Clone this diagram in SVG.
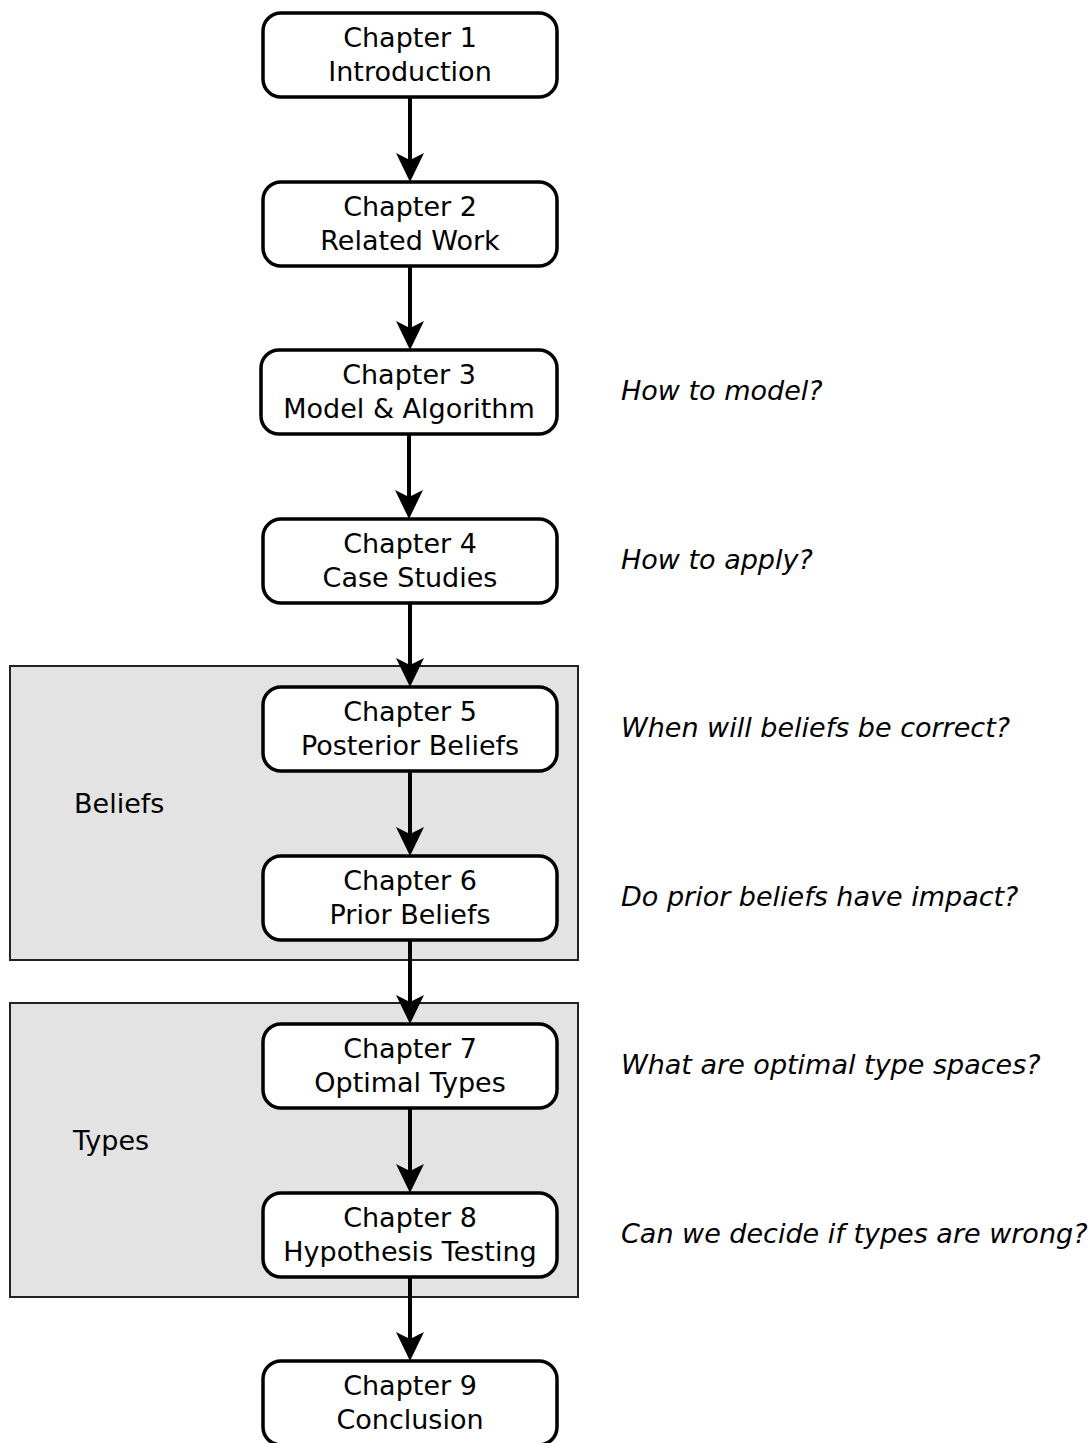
<svg xmlns="http://www.w3.org/2000/svg" width="1092" height="1443" viewBox="0 0 1092 1443">
<style>
.node rect{fill:#fff;stroke:#000;stroke-width:3.5}
.t{font-family:"DejaVu Sans",sans-serif;font-size:27px;fill:#000;text-anchor:middle}
.q{font-family:"DejaVu Sans",sans-serif;font-size:27px;font-style:italic;fill:#000}
.gl{font-family:"DejaVu Sans",sans-serif;font-size:27px;fill:#000}
.grp rect{fill:#e3e3e3;stroke:#222;stroke-width:2}
.c path{stroke:#000;stroke-width:4;fill:none}
</style>
<defs>
<marker id="ah" markerUnits="userSpaceOnUse" markerWidth="30" markerHeight="30" viewBox="0 -15 30 30" refX="7" refY="0" orient="auto" overflow="visible">
<path d="M29,0 L0,-14 L7,0 L0,14 Z" fill="#000"/>
</marker>
</defs>
<g id="group-beliefs" class="grp"><rect x="10" y="666" width="568" height="294"/><text class="gl" x="74" y="813">Beliefs</text></g>
<g id="group-types" class="grp"><rect x="10" y="1003" width="568" height="294"/><text class="gl" x="73" y="1150">Types</text></g>
<g id="connectors" class="c">
<path d="M410,97 V160" marker-end="url(#ah)"/>
<path d="M410,266 V328" marker-end="url(#ah)"/>
<path d="M409,434 V497" marker-end="url(#ah)"/>
<path d="M410,603 V665" marker-end="url(#ah)"/>
<path d="M410,771 V834" marker-end="url(#ah)"/>
<path d="M410,940 V1002" marker-end="url(#ah)"/>
<path d="M410,1108 V1171" marker-end="url(#ah)"/>
<path d="M410,1277 V1339" marker-end="url(#ah)"/>
</g>
<g id="ch1" class="node"><rect x="263" y="13" width="294" height="84" rx="18"/><text class="t" x="410" y="47">Chapter 1</text><text class="t" x="410" y="81">Introduction</text></g>
<g id="ch2" class="node"><rect x="263" y="182" width="294" height="84" rx="18"/><text class="t" x="410" y="216">Chapter 2</text><text class="t" x="410" y="250">Related Work</text></g>
<g id="ch3" class="node"><rect x="261" y="350" width="296" height="84" rx="18"/><text class="t" x="409" y="384">Chapter 3</text><text class="t" x="409" y="418">Model &amp; Algorithm</text></g>
<g id="ch4" class="node"><rect x="263" y="519" width="294" height="84" rx="18"/><text class="t" x="410" y="553">Chapter 4</text><text class="t" x="410" y="587">Case Studies</text></g>
<g id="ch5" class="node"><rect x="263" y="687" width="294" height="84" rx="18"/><text class="t" x="410" y="721">Chapter 5</text><text class="t" x="410" y="755">Posterior Beliefs</text></g>
<g id="ch6" class="node"><rect x="263" y="856" width="294" height="84" rx="18"/><text class="t" x="410" y="890">Chapter 6</text><text class="t" x="410" y="924">Prior Beliefs</text></g>
<g id="ch7" class="node"><rect x="263" y="1024" width="294" height="84" rx="18"/><text class="t" x="410" y="1058">Chapter 7</text><text class="t" x="410" y="1092">Optimal Types</text></g>
<g id="ch8" class="node"><rect x="263" y="1193" width="294" height="84" rx="18"/><text class="t" x="410" y="1227">Chapter 8</text><text class="t" x="410" y="1261">Hypothesis Testing</text></g>
<g id="ch9" class="node"><rect x="263" y="1361" width="294" height="84" rx="18"/><text class="t" x="410" y="1395">Chapter 9</text><text class="t" x="410" y="1429">Conclusion</text></g>
<g id="questions">
<text class="q" x="621" y="400">How to model?</text>
<text class="q" x="621" y="569">How to apply?</text>
<text class="q" x="621" y="737">When will beliefs be correct?</text>
<text class="q" x="621" y="906">Do prior beliefs have impact?</text>
<text class="q" x="621" y="1074">What are optimal type spaces?</text>
<text class="q" x="621" y="1243">Can we decide if types are wrong?</text>
</g>
</svg>
